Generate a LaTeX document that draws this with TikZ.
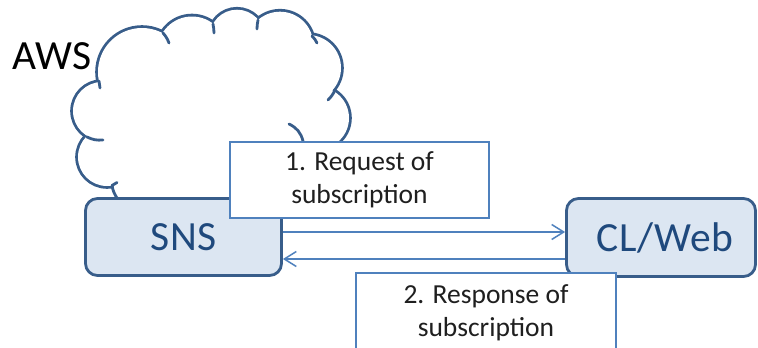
\documentclass[tikz,border=0pt]{standalone}
\usepackage{fontspec}
\setmainfont{Carlito}
\usetikzlibrary{arrows.meta}
\definecolor{cloudblue}{RGB}{56,93,138}
\definecolor{boxfill}{RGB}{220,230,242}
\definecolor{lblue}{RGB}{79,129,189}
\definecolor{txtblue}{RGB}{31,73,125}
\tikzset{
  sysbox/.style={draw=cloudblue, line width=2.8pt, fill=boxfill, rounded corners=12pt,
    inner sep=0pt, text=txtblue, font=\fontsize{41.5}{46}\selectfont\addfontfeatures{LetterSpace=2}},
  labelbox/.style={draw=lblue, line width=1.8pt, fill=white, inner sep=0pt, align=center,
    font=\fontsize{27.5}{33}\selectfont, text=black!88},
  msg/.style={draw=lblue, line width=1.5pt,
    -{Straight Barb[length=12pt,width=15pt,line width=1.5pt]}},
  cloudline/.style={draw=cloudblue, line width=2.8pt, line cap=round},
}
\begin{document}
\begin{tikzpicture}[x=1pt,y=1pt]
\useasboundingbox (0,0) rectangle (758,-348);
\clip (0,0) rectangle (758,-348);
% cloud: union of circles
\draw[cloudblue, line width=5.6pt]
  (142,-72) circle (44pt) (102,-111) circle (29pt) (107,-157) circle (29pt)
  (192,-51) circle (34.5pt) (237,-37) circle (27.3pt) (280,-45) circle (33.3pt)
  (308,-68) circle (33pt) (318,-118) circle (31pt);
\fill[white]
  (142,-72) circle (44pt) (102,-111) circle (29pt) (107,-157) circle (29pt)
  (192,-51) circle (34.5pt) (237,-37) circle (27.3pt) (280,-45) circle (33.3pt)
  (308,-68) circle (33pt) (318,-118) circle (31pt);
\fill[white] (142,-72) -- (192,-51) -- (237,-37) -- (280,-45) -- (308,-68) -- (318,-118)
  -- (335,-150) -- (240,-205) -- (118,-205) -- (107,-157) -- (102,-111) -- cycle;
% cloud hooks
\draw[cloudline] (99,-81) to[bend right=10] (100,-88);
\draw[cloudline] (87,-137) to[bend right=15] (103,-140);
\draw[cloudline] (112,-185.5) to[bend left=10] (117,-182.5);
\draw[cloudline] (112,-186) to[bend right=10] (117,-198);
\draw[cloudline] (163,-33) to[bend left=10] (169,-43);
\draw[cloudline] (213,-24) to[bend left=5] (214,-33);
\draw[cloudline] (258,-20) to[bend right=5] (257,-29);
\draw[cloudline] (312,-36) to[bend left=10] (317,-43);
\draw[cloudline] (335,-90) to[bend left=10] (328,-100);
\draw[cloudline] (289,-124) to[bend left=25] (303,-141);
% AWS
\node[font=\fontsize{41.5}{46}\selectfont\addfontfeatures{LetterSpace=2}, anchor=base west, inner sep=0pt] (aws) at (12,-69) {AWS};
% system boxes
\node[sysbox, minimum width=196pt, minimum height=77pt] (sns) at (183.5,-237) {SNS};
\node[sysbox, minimum width=189pt, minimum height=78pt] (cl) at (661,-237.5) {\hspace*{8pt}CL/Web};
% request label
\node[labelbox, minimum width=259pt, minimum height=76pt] (req) at (359.5,-180) {1. Request of\\subscription};
% messages
\draw[msg] ([yshift=5pt]sns.east) -- ([yshift=5.5pt]cl.west);
\draw[msg] ([yshift=-21.5pt]cl.west) -- ([yshift=-22pt]sns.east);
% response label
\node[labelbox, minimum width=260pt, minimum height=79pt] (resp) at (486,-312.5) {2. Response of\\subscription};
\end{tikzpicture}
\end{document}
